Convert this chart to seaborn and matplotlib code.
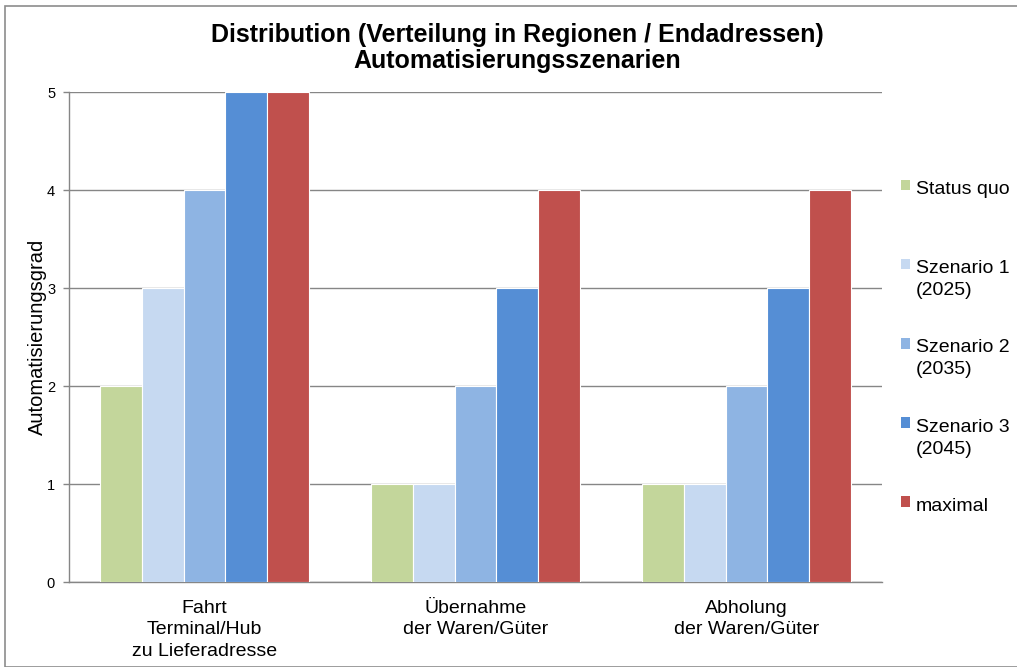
import matplotlib
matplotlib.use("Agg")
import matplotlib.pyplot as plt
import seaborn as sns
import pandas as pd
from matplotlib.patches import Rectangle, Patch
from matplotlib.legend_handler import HandlerPatch

categories = ["Fahrt\nTerminal/Hub\nzu Lieferadresse",
              "Übernahme\nder Waren/Güter",
              "Abholung\nder Waren/Güter"]
series = ["Status quo", "Szenario 1\n(2025)", "Szenario 2\n(2035)",
          "Szenario 3\n(2045)", "maximal"]
status_quo = [2, 1, 1]
szenario1 = [3, 1, 1]
szenario2 = [4, 2, 2]
szenario3 = [5, 3, 3]
maximal = [5, 4, 4]
colors = ["#C3D69B", "#C6D9F1", "#8EB4E3", "#558ED5", "#C0504D"]
yticks = [0, 1, 2, 3, 4, 5]

values = [status_quo, szenario1, szenario2, szenario3, maximal]
rows = []
for s, vals in zip(series, values):
    for c, v in zip(categories, vals):
        rows.append({"cat": c, "series": s, "value": v})
df = pd.DataFrame(rows)

sns.set_theme(style="white")
plt.rcParams["font.family"] = ["Liberation Sans", "DejaVu Sans"]
plt.rcParams["text.color"] = "black"

fig = plt.figure(figsize=(10.17, 6.67), dpi=100)
ax = fig.add_axes([69/1017, 1-582/667, (882-69)/1017, (582-92)/667])

sns.barplot(data=df, x="cat", y="value", hue="series", order=categories,
            hue_order=series, palette=colors, width=0.77, gap=0,
            edgecolor="white", linewidth=0.8, saturation=1, ax=ax,
            legend=False, zorder=3)

ax.set_ylim(0, 5)
ax.set_xlim(-0.5, 2.5)
ax.set_yticks(yticks)
ax.set_yticklabels([str(t) for t in yticks], fontsize=10.5)
ax.yaxis.grid(True, color="#868686", linewidth=1)
ax.set_axisbelow(True)
for side in ["top", "right"]:
    ax.spines[side].set_visible(False)
for side in ["left", "bottom"]:
    ax.spines[side].set_color("#868686")
    ax.spines[side].set_linewidth(1)
ax.tick_params(axis="y", which="major", left=True, length=4, color="#868686",
               width=1, pad=6, labelcolor="black")
ax.tick_params(axis="x", bottom=False, labelsize=14, pad=7, labelcolor="black")
for lbl in ax.get_xticklabels():
    lbl.set_linespacing(1.33)
ax.set_xlabel("")
ax.set_ylabel("Automatisierungsgrad", fontsize=14.5, labelpad=0, color="black")

fig.suptitle("Distribution (Verteilung in Regionen / Endadressen)\nAutomatisierungsszenarien",
             x=517/1017, y=1-23/667, fontsize=18, fontweight="bold",
             va="top", linespacing=1.08, color="black")

# legend: all entries as two-line blocks, marker aligned with first line
legend_labels = [s if "\n" in s else s + "\n " for s in series]


def first_line_patch(legend, orig_handle, xdescent, ydescent, width, height, fontsize):
    shift = 0.78 * fontsize
    return Rectangle((-xdescent, -ydescent + shift), width, height)


handles = [Patch(facecolor=c, edgecolor="none") for c in colors]
leg = fig.legend(handles, legend_labels, loc="upper left",
                 bbox_to_anchor=(901/1017, 1-181/667),
                 frameon=False, fontsize=14, handlelength=0.47, handleheight=0.47,
                 handletextpad=0.3, labelspacing=2.07, borderaxespad=0, borderpad=0,
                 handler_map={Patch: HandlerPatch(patch_func=first_line_patch)})
for t in leg.get_texts():
    t.set_linespacing(1.38)

fig.patches.append(Rectangle((5/1017, 0), 1.2, 1-6/667, transform=fig.transFigure,
                             fill=False, edgecolor="#8c8c8c", linewidth=1.2))

fig.savefig("out.png", dpi=100)
